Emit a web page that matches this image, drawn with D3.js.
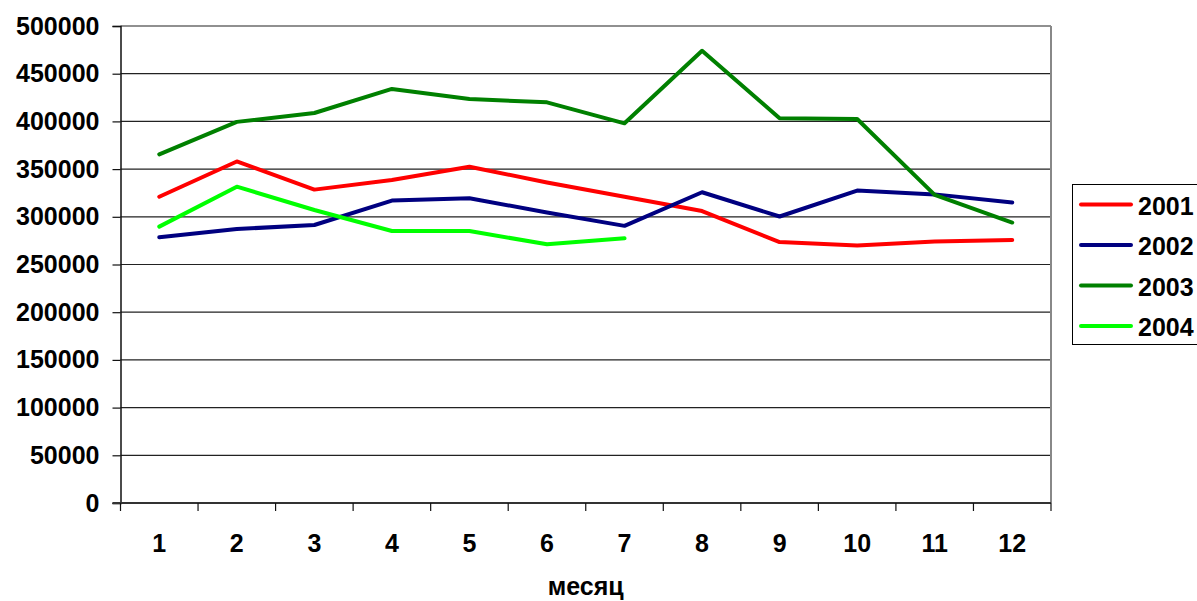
<!DOCTYPE html>
<html>
<head>
<meta charset="utf-8">
<script src="https://cdn.jsdelivr.net/npm/d3@7"></script>
<style>
  html, body { margin: 0; padding: 0; background: #fff; }
  svg { display: block; font-family: "Liberation Sans", Arial, sans-serif; font-weight: bold; }
</style>
</head>
<body>
<svg id="chart" width="1197" height="601"></svg>
<script>
// Monthly values per year
const months = ["1", "2", "3", "4", "5", "6", "7", "8", "9", "10", "11", "12"];
const years = ["2001", "2002", "2003", "2004"];
const s2001 = [321000, 358000, 328500, 338500, 352500, 336000, 321000, 306000, 273500, 270000, 274000, 275700];
const s2002 = [278500, 287200, 291400, 317000, 319500, 304500, 290500, 325700, 300300, 327500, 323500, 315000];
const s2003 = [365500, 399500, 408800, 434000, 423500, 420000, 398000, 474000, 403300, 402500, 323000, 294000];
const s2004 = [289700, 331600, 307100, 285100, 285100, 271200, 277500];
const yTicks = [0, 50000, 100000, 150000, 200000, 250000, 300000, 350000, 400000, 450000, 500000];
const colors = ["#ff0000", "#000080", "#008000", "#00ff00"];
const xTitle = "месяц";

const seriesList = [s2001, s2002, s2003, s2004];

const svg = d3.select("#chart");
const plot = { left: 120.5, right: 1051, top: 26, bottom: 503 };

const x = d3.scaleBand().domain(months).range([plot.left, plot.right]).padding(0);
const y = d3.scaleLinear().domain([0, 500000]).range([plot.bottom, plot.top]);

// horizontal gridlines
svg.append("g").selectAll("line").data(yTicks.filter(d => d > 0)).join("line")
  .attr("x1", plot.left).attr("x2", plot.right)
  .attr("y1", d => y(d)).attr("y2", d => y(d))
  .attr("stroke", "#222").attr("stroke-width", 1.2);

// right border of the plot area
svg.append("line")
  .attr("x1", plot.right).attr("x2", plot.right)
  .attr("y1", plot.top).attr("y2", plot.bottom)
  .attr("stroke", "#888").attr("stroke-width", 2);

// y axis
const yAxis = d3.axisLeft(y).tickValues(yTicks).tickSize(8).tickPadding(13).tickFormat(d3.format("d"));
const gy = svg.append("g").attr("transform", `translate(${plot.left},0)`).call(yAxis);
gy.select(".domain").attr("stroke", "#111").attr("stroke-width", 1.5);
gy.selectAll(".tick line").attr("stroke", "#111").attr("stroke-width", 1.2);
gy.selectAll(".tick text").attr("font-size", 25).attr("font-weight", "bold")
  .attr("font-family", "Liberation Sans, Arial, sans-serif").attr("fill", "#000");

// x axis, ticks between categories
const gx = svg.append("g").attr("transform", `translate(0,${plot.bottom})`);
gx.append("line").attr("x1", plot.left - 8).attr("x2", plot.right)
  .attr("stroke", "#333").attr("stroke-width", 2);
const boundaries = months.map(m => x(m)).concat([plot.right]);
gx.selectAll("line.tk").data(boundaries).join("line").attr("class", "tk")
  .attr("x1", d => d).attr("x2", d => d).attr("y1", 0).attr("y2", 8)
  .attr("stroke", "#111").attr("stroke-width", 1.2);
gx.selectAll("text").data(months).join("text")
  .attr("x", d => x(d) + x.bandwidth() / 2).attr("y", 40)
  .attr("text-anchor", "middle").attr("dominant-baseline", "central")
  .attr("font-size", 25).attr("fill", "#000").text(d => d);

svg.append("text")
  .attr("x", (plot.left + plot.right) / 2).attr("y", 586)
  .attr("text-anchor", "middle").attr("dominant-baseline", "central")
  .attr("font-size", 25).attr("fill", "#000").text(xTitle);

// series lines
const line = d3.line()
  .x((d, i) => x(months[i]) + x.bandwidth() / 2)
  .y(d => y(d));

svg.append("g").selectAll("path").data(seriesList).join("path")
  .attr("d", d => line(d))
  .attr("fill", "none")
  .attr("stroke", (d, i) => colors[i])
  .attr("stroke-width", 4)
  .attr("stroke-linejoin", "round")
  .attr("stroke-linecap", "round");

// legend
const lg = svg.append("g");
lg.append("rect").attr("x", 1072.5).attr("y", 184.5).attr("width", 200).attr("height", 160)
  .attr("fill", "#fff").attr("stroke", "#000").attr("stroke-width", 1);
const rows = lg.selectAll("g.row").data(years).join("g").attr("class", "row")
  .attr("transform", (d, i) => `translate(0,${204.5 + i * 40.5})`);
rows.append("line").attr("x1", 1081).attr("x2", 1131)
  .attr("stroke", (d, i) => colors[i]).attr("stroke-width", 4).attr("stroke-linecap", "round");
rows.append("text").attr("x", 1138).attr("y", 1).attr("dominant-baseline", "central")
  .attr("font-size", 25).attr("fill", "#000").text(d => d);
</script>
</body>
</html>
